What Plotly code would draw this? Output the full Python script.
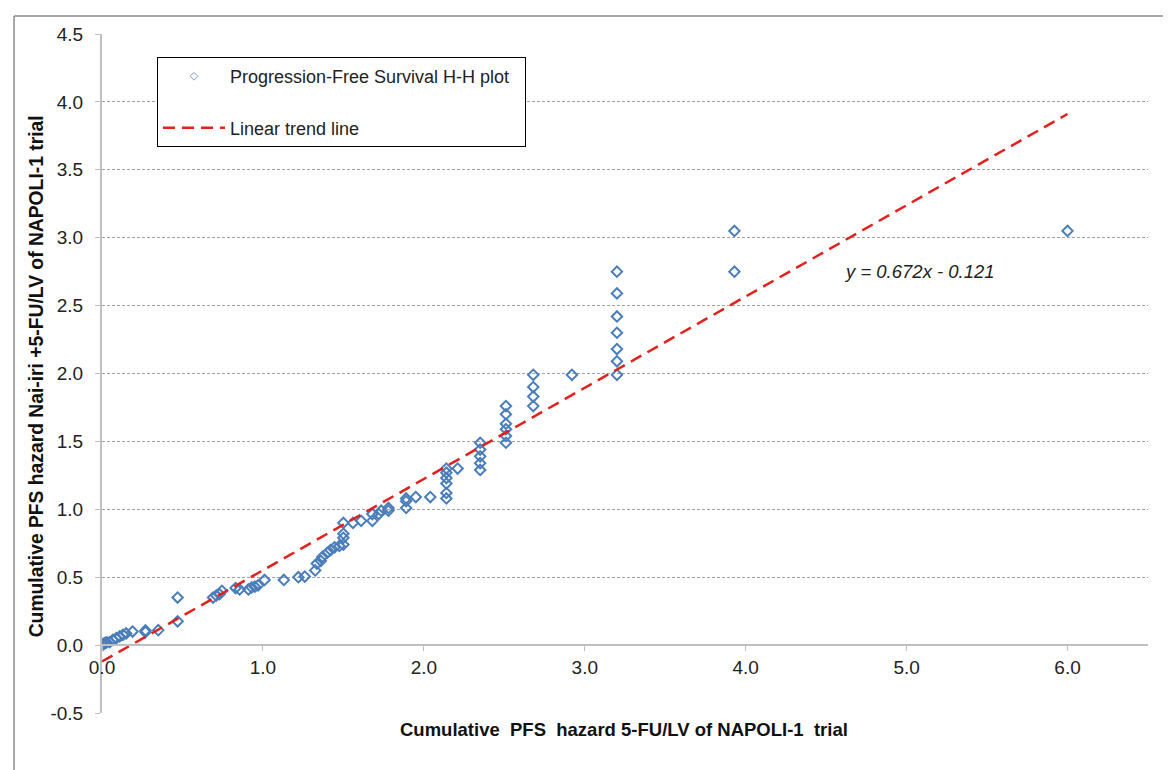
import plotly.graph_objects as go

# ---- data ----
x_hazard_5fu = [0.000, 0.005, 0.010, 0.015, 0.020, 0.030, 0.048, 0.068, 0.089, 0.110,
                0.130, 0.150, 0.190, 0.270, 0.270, 0.350, 0.470, 0.470, 0.690, 0.710,
                0.730, 0.745, 0.830, 0.855, 0.910, 0.930, 0.950, 0.970, 1.010, 1.130,
                1.220, 1.260, 1.325, 1.335, 1.360, 1.370, 1.400, 1.420, 1.445, 1.475,
                1.500, 1.500, 1.500, 1.500, 1.560, 1.610, 1.680, 1.680, 1.720, 1.735,
                1.780, 1.780, 1.890, 1.890, 1.890, 1.950, 2.040, 2.140, 2.140, 2.140,
                2.140, 2.140, 2.140, 2.210, 2.350, 2.350, 2.350, 2.350, 2.350, 2.510,
                2.510, 2.510, 2.510, 2.510, 2.510, 2.680, 2.680, 2.680, 2.680, 2.920,
                3.200, 3.200, 3.200, 3.200, 3.200, 3.200, 3.200, 3.930, 3.930, 6.000]
y_hazard_naliri = [0.000, 0.005, 0.008, 0.012, 0.016, 0.020, 0.022, 0.039, 0.052, 0.064,
                   0.076, 0.086, 0.100, 0.096, 0.108, 0.110, 0.175, 0.350, 0.350, 0.365,
                   0.375, 0.400, 0.420, 0.410, 0.410, 0.425, 0.430, 0.440, 0.480, 0.480,
                   0.500, 0.505, 0.550, 0.600, 0.620, 0.650, 0.680, 0.700, 0.720, 0.730,
                   0.740, 0.790, 0.820, 0.900, 0.900, 0.915, 0.915, 0.965, 0.965, 0.990,
                   0.990, 1.010, 1.010, 1.060, 1.080, 1.090, 1.090, 1.080, 1.120, 1.190,
                   1.230, 1.270, 1.300, 1.300, 1.290, 1.340, 1.390, 1.440, 1.490, 1.490,
                   1.540, 1.590, 1.630, 1.700, 1.760, 1.760, 1.830, 1.900, 1.990, 1.990,
                   1.990, 2.090, 2.180, 2.300, 2.420, 2.590, 2.750, 2.750, 3.050, 3.050]

trend_slope = 0.672
trend_intercept = -0.121
trend_x = [0.0, 6.0]

x_ticks = [0, 1, 2, 3, 4, 5, 6]
x_tick_labels = ["0.0", "1.0", "2.0", "3.0", "4.0", "5.0", "6.0"]
y_ticks = [-0.5, 0.0, 0.5, 1.0, 1.5, 2.0, 2.5, 3.0, 3.5, 4.0, 4.5]
y_tick_labels = ["-0.5", "0.0", "0.5", "1.0", "1.5", "2.0", "2.5", "3.0", "3.5", "4.0", "4.5"]

series_name = "Progression-Free Survival H-H plot"
trend_name = "Linear trend line"
equation_text = "y = 0.672x - 0.121"
x_title = "Cumulative\u00a0 PFS\u00a0 hazard 5-FU/LV of NAPOLI-1\u00a0 trial"
y_title = "Cumulative PFS hazard Nai-iri +5-FU/LV of NAPOLI-1 trial"

# ---- styling ----
FONT = "Liberation Sans, Arial, sans-serif"
BLUE = "#4A7EBB"
RED = "#E2201C"
GRID = "#A0A0A0"
AXIS = "#BFBFBF"
DASH = "12px,7px"

trend_y = [trend_slope * v + trend_intercept for v in trend_x]

fig = go.Figure()

# scatter points (legend shown through a small-marker proxy)
fig.add_trace(go.Scatter(
    x=x_hazard_5fu, y=y_hazard_naliri, mode="markers", showlegend=False,
    marker=dict(symbol="diamond-open", size=8, color=BLUE, line=dict(width=2, color=BLUE)),
    name=series_name,
))
fig.add_trace(go.Scatter(
    x=trend_x, y=trend_y, mode="lines", showlegend=False,
    line=dict(color=RED, width=2.5, dash=DASH), name=trend_name,
))
# legend proxies
fig.add_trace(go.Scatter(
    x=[None], y=[None], mode="markers", legendgroup="a",
    marker=dict(symbol="diamond-open", size=6, color="#7F9FCB", line=dict(width=1, color="#7F9FCB")),
    name=series_name + "\u00a0" * 2,
))
fig.add_trace(go.Scatter(
    x=[None], y=[None], mode="lines", legendgroup="b",
    line=dict(color=RED, width=2.5, dash=DASH), name=trend_name,
))

fig.add_annotation(
    x=5.08, y=2.75, xref="x", yref="y", text="<i>" + equation_text + "</i>", showarrow=False,
    font=dict(family=FONT, size=18.5, color="#222222"), xanchor="center", yanchor="middle",
)
fig.add_annotation(
    x=0.499, y=-0.0236, xref="paper", yref="paper", text="<b>" + x_title + "</b>",
    showarrow=False, font=dict(family=FONT, size=18.5, color="#111111"),
    xanchor="center", yanchor="middle",
)
fig.add_annotation(
    x=-0.063, y=0.496, xref="paper", yref="paper", text="<b>" + y_title + "</b>",
    showarrow=False, textangle=-90, font=dict(family=FONT, size=19.3, color="#111111"),
    xanchor="center", yanchor="middle",
)

# chart-area border (left and top edges visible in the reference)
fig.add_shape(type="line", xref="paper", yref="paper", x0=-0.0841, x1=1.1, y0=1.0265, y1=1.0265,
              line=dict(color="#8C8C8C", width=1.5))
fig.add_shape(type="line", xref="paper", yref="paper", x0=-0.0841, x1=-0.0841, y0=-0.2, y1=1.0265,
              line=dict(color="#8C8C8C", width=1.5))

fig.update_layout(
    width=1171, height=770,
    margin=dict(l=94, r=31, t=26, b=65),
    paper_bgcolor="white", plot_bgcolor="white",
    font=dict(family=FONT, size=18, color="#222222"),
    showlegend=True,
    legend=dict(
        x=0.0526, y=0.966, xanchor="left", yanchor="top",
        bordercolor="#000000", borderwidth=1, bgcolor="white",
        font=dict(family=FONT, size=18, color="#222222"),
        tracegroupgap=25, itemwidth=62,
    ),
    xaxis=dict(
        range=[0, 6.5], tickmode="array", tickvals=x_ticks, ticktext=x_tick_labels,
        showgrid=False, zeroline=False, showline=True, linecolor=AXIS, linewidth=2,
        ticks="outside", ticklen=5, tickcolor=AXIS, tickwidth=1,
        anchor="free", position=0.1,
        tickfont=dict(family=FONT, size=19, color="#222222"),
    ),
    yaxis=dict(
        range=[-0.5, 4.5], tickmode="array", tickvals=y_ticks, ticktext=y_tick_labels,
        showgrid=True, gridcolor=GRID, gridwidth=1, griddash="3px,2px",
        zeroline=False, showline=True, linecolor=AXIS, linewidth=2,
        ticks="outside", ticklen=5, tickcolor=AXIS, tickwidth=1,
        ticklabelstandoff=8,
        tickfont=dict(family=FONT, size=19, color="#222222"),
    ),
)

fig.write_html("out.html")
